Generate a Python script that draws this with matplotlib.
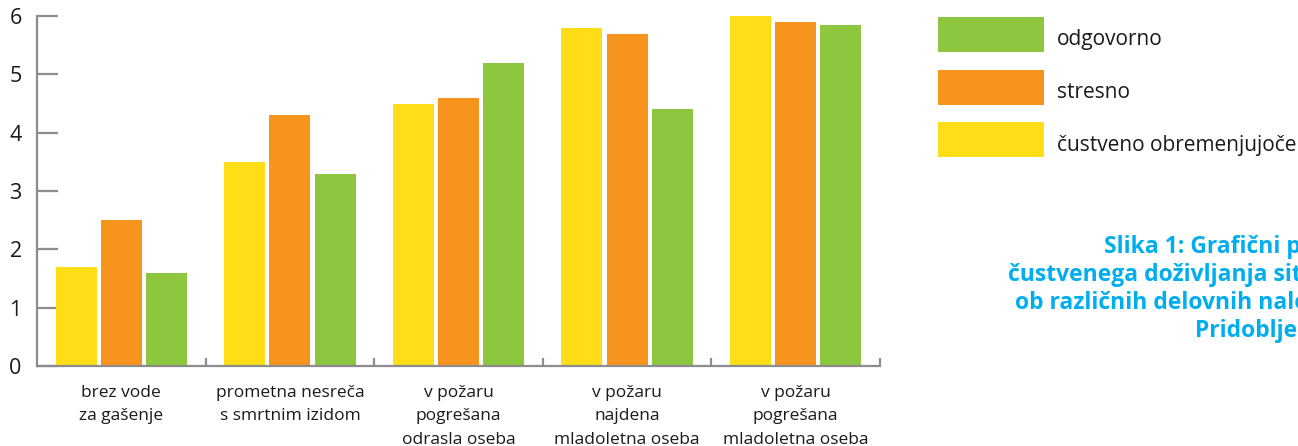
import matplotlib
matplotlib.use("Agg")
import matplotlib.pyplot as plt
import numpy as np
from matplotlib.patches import Rectangle

plt.rcParams["font.family"] = ["Open Sans", "DejaVu Sans"]

# ── data ──────────────────────────────────────────────────────────────────────
situations = [
    "brez vode\nza gašenje",
    "prometna nesreča\ns smrtnim izidom",
    "v požaru\npogrešana\nodrasla oseba",
    "v požaru\nnajdena\nmladoletna oseba",
    "v požaru\npogrešana\nmladoletna oseba",
]
custveno = [1.7, 3.5, 4.5, 5.8, 6.0]
stresno = [2.5, 4.3, 4.6, 5.7, 5.9]
odgovorno = [1.6, 3.3, 5.2, 4.4, 5.85]
yticks = [0, 1, 2, 3, 4, 5, 6]

caption = ("Slika 1: Grafični prikaz\n"
           "čustvenega doživljanja situacij\n"
           "ob različnih delovnih nalogah.\n"
           "Pridobljeno iz:")

# ── style ─────────────────────────────────────────────────────────────────────
YELLOW = "#FFDD17"
ORANGE = "#F7941E"
GREEN = "#8DC63F"
AXIS = "#8C8C8C"
CYAN = "#00AEEF"
TEXT = "#1A1A1A"

W, H = 1298, 446
fig = plt.figure(figsize=(W / 100, H / 100), dpi=100)
fig.patch.set_facecolor("white")
ax = fig.add_axes([37 / W, 1 - 366 / H, (880 - 37) / W, (366 - 16) / H])

x = np.arange(len(situations))
bw = 0.244
step = 0.268
for off, vals, col in ((-step, custveno, YELLOW),
                       (0.0, stresno, ORANGE),
                       (step, odgovorno, GREEN)):
    ax.bar(x + off, vals, width=bw, color=col, linewidth=0, zorder=2)

ax.set_xlim(-0.5, len(situations) - 0.5)
ax.set_ylim(0, 6)

for s in ("top", "right"):
    ax.spines[s].set_visible(False)
for s in ("left", "bottom"):
    ax.spines[s].set_color(AXIS)
    ax.spines[s].set_linewidth(1.6)
    ax.spines[s].set_zorder(3)

ax.set_yticks(yticks)
ax.set_yticklabels([str(v) for v in yticks])
ax.tick_params(axis="y", direction="in", length=15, width=1.6, color=AXIS,
               labelsize=15.5, pad=11, labelcolor=TEXT)
for lab in ax.get_yticklabels():
    lab.set_verticalalignment("center_baseline")

# group separators on the x axis, labels centred under each group
ax.set_xticks(x + 0.5)
ax.set_xticklabels([])
ax.tick_params(axis="x", direction="in", length=6, width=1.6, color=AXIS)
for xi, lab in zip(x, situations):
    ax.text(xi, -0.32, lab, ha="center", va="top", fontsize=12.5,
            linespacing=1.62, color=TEXT, transform=ax.transData,
            clip_on=False)

# ── legend as coloured blocks ─────────────────────────────────────────────────
legend_items = [("odgovorno", GREEN), ("stresno", ORANGE),
                ("čustveno obremenjujoče", YELLOW)]
for i, (name, col) in enumerate(legend_items):
    top = 17 + i * 52.5
    fig.patches.append(Rectangle((938 / W, 1 - (top + 35) / H), 106 / W, 35 / H,
                                 transform=fig.transFigure, facecolor=col,
                                 edgecolor="none"))
    fig.text(1057 / W, 1 - (top + 23) / H, name, ha="left", va="center",
             fontsize=15, color=TEXT)

# ── caption ───────────────────────────────────────────────────────────────────
fig.text(1357 / W, 1 - 289 / H, caption, ha="right", va="center",
         multialignment="right", fontsize=16.5, fontweight="bold",
         color=CYAN, linespacing=1.23)

fig.savefig("out.png", dpi=100, facecolor="white")
